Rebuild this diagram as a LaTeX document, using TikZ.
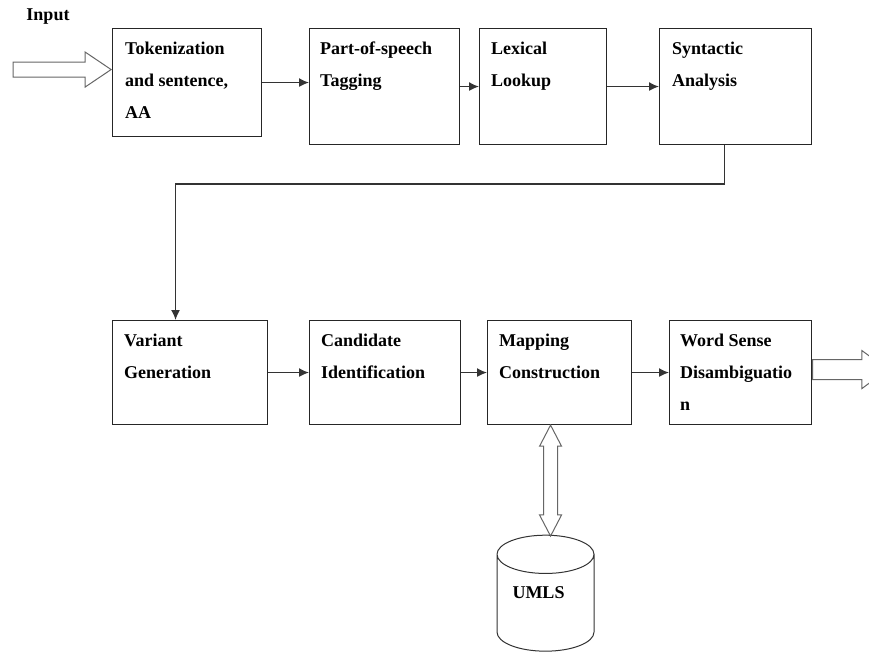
\documentclass[tikz,border=0pt]{standalone}
\usepackage{fontspec}
\setmainfont{Liberation Serif}
\usetikzlibrary{positioning,arrows.meta,shapes.arrows,shapes.geometric}

\tikzset{
  stage/.style={draw=black!85, line width=1.1pt, anchor=north west, inner sep=0pt},
  txt/.style={font=\fontsize{18}{32}\selectfont\bfseries, align=left, inner sep=0pt},
  link/.style={draw=black!80, line width=1.3pt, -{Latex[length=10pt,width=9pt]}},
  hollow/.style={draw=black!60, line width=1pt, fill=white, inner xsep=0pt},
}

\begin{document}
\begin{tikzpicture}[x=1pt,y=-1pt]
\useasboundingbox (0,0) rectangle (869,655);

% first row of stages
\node[stage, minimum width=149, minimum height=108] (tok) at (112,28) {};
\node[stage, minimum width=150, minimum height=116] (pos) at (309,28) {};
\node[stage, minimum width=127, minimum height=116] (lex) at (479,28) {};
\node[stage, minimum width=152, minimum height=116] (syn) at (659,28) {};

% second row of stages
\node[stage, minimum width=155, minimum height=104] (var) at (112,320) {};
\node[stage, minimum width=151, minimum height=104] (cand) at (309,320) {};
\node[stage, minimum width=144, minimum height=104] (map) at (487,320) {};
\node[stage, minimum width=142, minimum height=104] (wsd) at (669,320) {};

% texts
\node[txt, below right=14pt and 13pt of tok.north west] (toktext) {Tokenization\\and sentence,\\AA};
\node[txt, below right=14pt and 11pt of pos.north west] (postext) {Part-of-speech\\Tagging};
\node[txt, below right=14pt and 12pt of lex.north west] (lextext) {Lexical\\Lookup};
\node[txt, below right=14pt and 13pt of syn.north west] (syntext) {Syntactic\\Analysis};
\node[txt, below right=14pt and 12pt of var.north west] (vartext) {Variant\\Generation};
\node[txt, below right=14pt and 12pt of cand.north west] (candtext) {Candidate\\Identification};
\node[txt, below right=14pt and 12pt of map.north west] (maptext) {Mapping\\Construction};
\node[txt, below right=14pt and 11pt of wsd.north west] (wsdtext) {Word Sense\\Disambiguatio\\n};

\node[txt] (inlabel) at (48,17) {Input};

% input and output
\node[hollow, single arrow, minimum height=98, inner ysep=7pt, single arrow head extend=10pt,
      single arrow tip angle=68, anchor=tip] (inarrow) at ([yshift=13pt]tok.west) {};
\node[hollow, single arrow, minimum height=75, inner ysep=9.5pt, single arrow head extend=9pt,
      single arrow tip angle=73, anchor=tail] (outarrow) at ([yshift=3pt]wsd.east) {};

% database
\node[draw=black!80, line width=1pt, cylinder, shape border rotate=90, aspect=0.58,
      minimum width=97, minimum height=116, inner sep=0pt, txt] (umls) at (545.5,603) {\raisebox{20pt}{UMLS}\hspace*{14pt}};
\node[hollow, double arrow, shape border rotate=90, minimum height=111, inner xsep=6.5pt, inner ysep=0pt,
      double arrow head extend=4pt, double arrow tip angle=55] (dbarrow) at ([xshift=-9pt,yshift=-55.5pt]map.south) {};

% connectors
\draw[link] (tok.east) -- (tok.east -| pos.west);
\draw[link] (pos.east) -- (lex.west);
\draw[link] (lex.east) -- (syn.west);
\draw[link] ([xshift=-11pt]syn.south) -- ++(0,39) -| ([xshift=-14.5pt]var.north);
\draw[link] (var.east) -- (cand.west);
\draw[link] (cand.east) -- (map.west);
\draw[link] (map.east) -- (wsd.west);

\end{tikzpicture}
\end{document}
